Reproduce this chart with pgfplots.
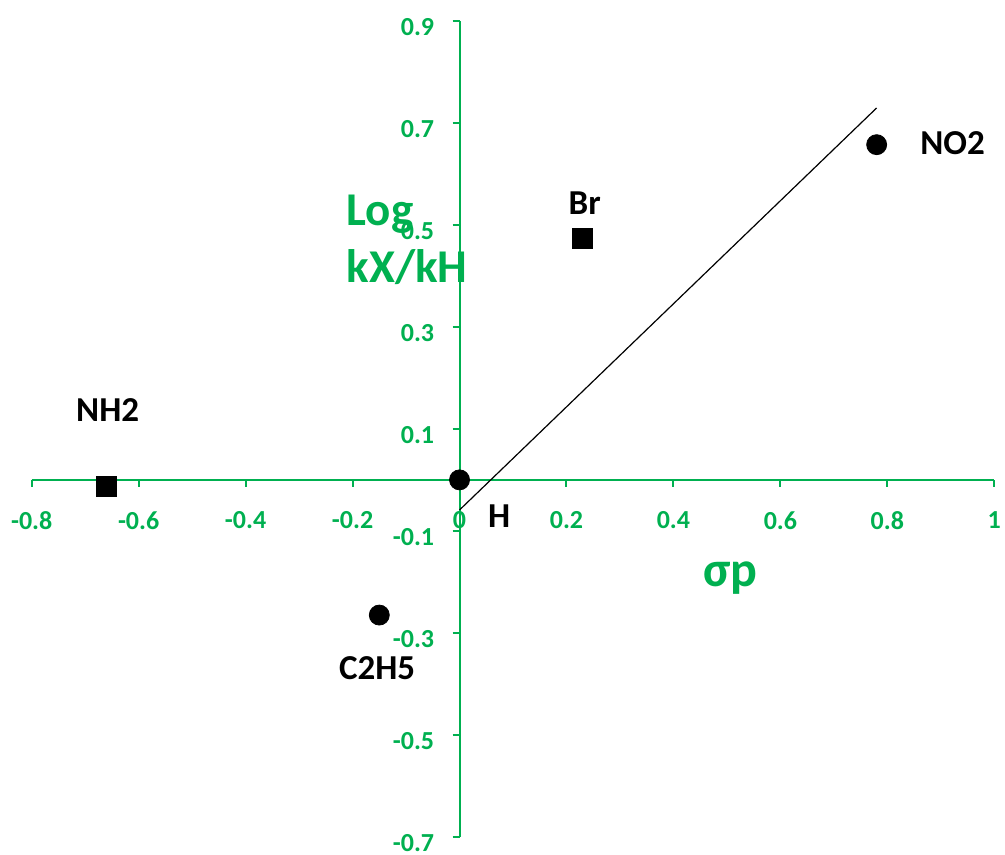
\documentclass[border=0pt]{standalone}
\usepackage{pgfplots}
\pgfplotsset{compat=1.18}
\usepackage{fontspec}
\setmainfont{Carlito}
\definecolor{xlgreen}{RGB}{0,176,80}
\begin{document}
\begin{tikzpicture}
\begin{axis}[
  scale only axis,
  width=481.3pt, height=408.15pt,
  xmin=-0.8, xmax=1, ymin=-0.7, ymax=0.9,
  axis lines=middle,
  axis line style={-, xlgreen, line width=1pt},
  hide obscured x ticks=false,
  hide obscured y ticks=false,
  xtick={-0.8,-0.6,-0.4,-0.2,0,0.2,0.4,0.6,0.8,1},
  xticklabels={-0.8,-0.6,-0.4,-0.2,0,0.2,0.4,0.6,0.8,1},
  ytick={-0.7,-0.5,-0.3,-0.1,0.1,0.3,0.5,0.7,0.9},
  yticklabels={-0.7,-0.5,-0.3,-0.1,0.1,0.3,0.5,0.7,0.9},
  tick align=outside,
  major tick length=3.5pt,
  tick style={xlgreen, line width=1pt},
  xticklabel style={font=\fontsize{13}{15}\selectfont\bfseries, text=xlgreen, anchor=north, inner sep=0pt, yshift=-12pt},
  yticklabel style={font=\fontsize{13}{15}\selectfont\bfseries, text=xlgreen, anchor=east, inner sep=0pt, xshift=-9pt, yshift=-3pt},
  clip=false,
]
\addplot[only marks, mark=*, mark size=5pt, black, mark options={fill=black}] coordinates {
  (0,0) (-0.15,-0.265) (0.78,0.657)
};
\addplot[only marks, mark=square*, mark size=5pt, black, mark options={fill=black}] coordinates {
  (-0.66,-0.012) (0.23,0.474)
};
\addplot[black, line width=0.6pt, mark=none] coordinates {
  (0,-0.059) (0.78,0.729)
};
\begin{scope}[font=\fontsize{17.5}{20}\selectfont\bfseries]
\node at (axis cs:-0.658,0.136) {NH2};
\node at (axis cs:-0.154,-0.369) {C2H5};
\node at (axis cs:0.074,-0.072) {H};
\node at (axis cs:0.234,0.543) {Br};
\node at (axis cs:0.922,0.66) {NO2};
\end{scope}
\node[text=xlgreen, font=\fontsize{25}{28.5}\selectfont\bfseries] at (axis cs:0.507,-0.192) {σp};
\node[text=xlgreen, font=\fontsize{23.5}{28.5}\selectfont\bfseries, anchor=west, align=left, inner sep=0pt] at (axis cs:-0.212,0.47) {Log\\kX/kH};
\end{axis}
\pgfresetboundingbox
\path ([shift={(-15.85pt,-8.5pt)}]current axis.south west) rectangle ([shift={(5.35pt,10.35pt)}]current axis.north east);
\end{tikzpicture}
\end{document}
